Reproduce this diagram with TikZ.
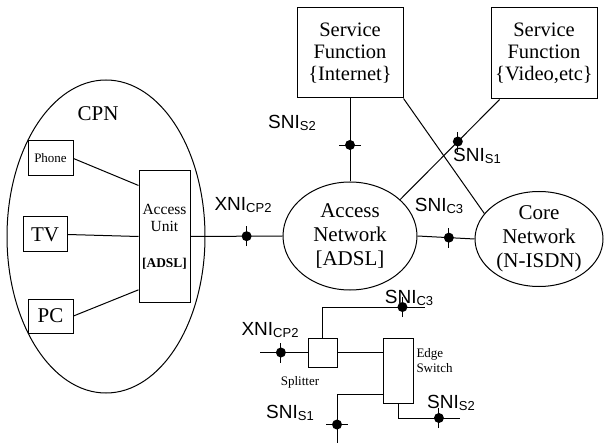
\documentclass[tikz,border=0pt]{standalone}
\usepackage{fontspec}
\setmainfont{Liberation Serif}
\newfontfamily\arialf{Liberation Sans}
\usetikzlibrary{shapes.geometric}
\newcommand\ifl[2]{{\arialf\fontsize{19}{19}\selectfont #1\raisebox{-1.2pt}{\fontsize{13}{13}\selectfont #2}}}
\begin{document}
\begin{tikzpicture}[x=1pt,y=-1pt, line width=1pt,
  box/.style={draw, rectangle, inner sep=0pt, align=center},
  oval/.style={draw, ellipse, inner sep=0pt, align=center},
  lbl/.style={inner sep=0pt},
  vtick/.style={line width=0.9pt},
]
\useasboundingbox (0,0) rectangle (604,443);

% CPN
\node[oval, minimum width=198pt, minimum height=313pt] (cpn) at (106,236.5) {};
\node[lbl, font=\fontsize{21}{24}\selectfont] (cpnl) at (98,114) {CPN};
\node[box, minimum width=45pt, minimum height=35pt, font=\fontsize{13}{15}\selectfont] (phone) at (50.5,158.5) {Phone};
\node[box, minimum width=44pt, minimum height=35pt, font=\fontsize{21}{24}\selectfont] (tv) at (45,234.5) {TV};
\node[box, minimum width=45pt, minimum height=34pt, font=\fontsize{21}{24}\selectfont] (pc) at (50.5,316) {PC};
\node[box, minimum width=51pt, minimum height=131pt, font=\fontsize{15.5}{17}\selectfont] (au) at (164.5,236.5)
  {Access\\Unit\\[19pt]{\fontsize{13.4}{15}\selectfont\bfseries [ADSL]}};

% service functions
\node[box, minimum width=106pt, minimum height=90pt, font=\fontsize{20.5}{22}\selectfont] (internet) at (350,53)
  {Service\\Function\\\{Internet\}};
\node[box, minimum width=106pt, minimum height=91pt, font=\fontsize{20.5}{22}\selectfont] (video) at (544,53.5)
  {Service\\Function\\\{Video,etc\}};

% networks
\node[oval, minimum width=134pt, minimum height=108pt, font=\fontsize{21}{24}\selectfont] (an) at (350,236)
  {Access\\Network\\{}[ADSL]};
\node[oval, minimum width=128pt, minimum height=95pt, font=\fontsize{21}{24}\selectfont] (core) at (539,239)
  {Core\\Network\\(N-ISDN)};

% connectors (top part)
\draw (phone.east) -- (au.117);
\draw (tv.east) -- (au.west);
\draw (pc.east) -- (au.244);
\draw (au.east) -- coordinate[pos=0.61] (x1) (an.west);
\draw (internet.south) -- coordinate[pos=0.56] (s2) (an.north);
\draw (video.226) -- coordinate[pos=0.42] (s1) (an.36);
\draw (internet.south east) -- (core.155);
\draw (an.east) -- coordinate[pos=0.55] (c3) (core.west);

% lower part
\node[box, minimum width=29pt, minimum height=29pt] (splitter) at (322.5,352.5) {};
\node[box, minimum width=30pt, minimum height=65pt] (edge) at (398,370.5) {};
\node[lbl, anchor=west, align=left, font=\fontsize{13}{15}\selectfont] (edgel) at (416,360.5) {Edge\\Switch};
\node[lbl, font=\fontsize{13}{15}\selectfont] (splitl) at (300,382) {Splitter};
\coordinate (c3e) at (425,307);
\coordinate (xe) at (260,352.5);
\coordinate (s1e) at (337,443);
\coordinate (s2e) at (460,418);
\draw (splitter.north) |- coordinate[pos=0.89] (c3b) (c3e);
\draw (xe) -- coordinate[pos=0.44] (xb) (splitter.west);
\draw (splitter.east) -- (splitter.east -| edge.west);
\draw (edge.237) -| coordinate[pos=0.81] (s1b) (s1e);
\draw (edge.south) |- coordinate[pos=0.83] (s2b) (s2e);

% interface marks
\foreach \c in {x1,s1,c3,xb,c3b,s2b}{
  \draw[vtick] ([yshift=-10pt]\c) -- ([yshift=10pt]\c);
  \fill (\c) circle (5);
}
\foreach \c in {s2,s1b}{
  \draw[vtick] ([xshift=-11pt]\c) -- ([xshift=11pt]\c);
  \fill (\c) circle (5);
}

% labels
\node[lbl] (l1) at (292,123) {\ifl{SNI}{S2}};
\node[lbl] (l2) at (477,156) {\ifl{SNI}{S1}};
\node[lbl] (l3) at (439,206) {\ifl{SNI}{C3}};
\node[lbl] (l4) at (243,205) {\ifl{XNI}{CP2}};
\node[lbl] (l5) at (409,298) {\ifl{SNI}{C3}};
\node[lbl] (l6) at (270,330) {\ifl{XNI}{CP2}};
\node[lbl] (l7) at (290,413) {\ifl{SNI}{S1}};
\node[lbl] (l8) at (451,403) {\ifl{SNI}{S2}};
\end{tikzpicture}
\end{document}
